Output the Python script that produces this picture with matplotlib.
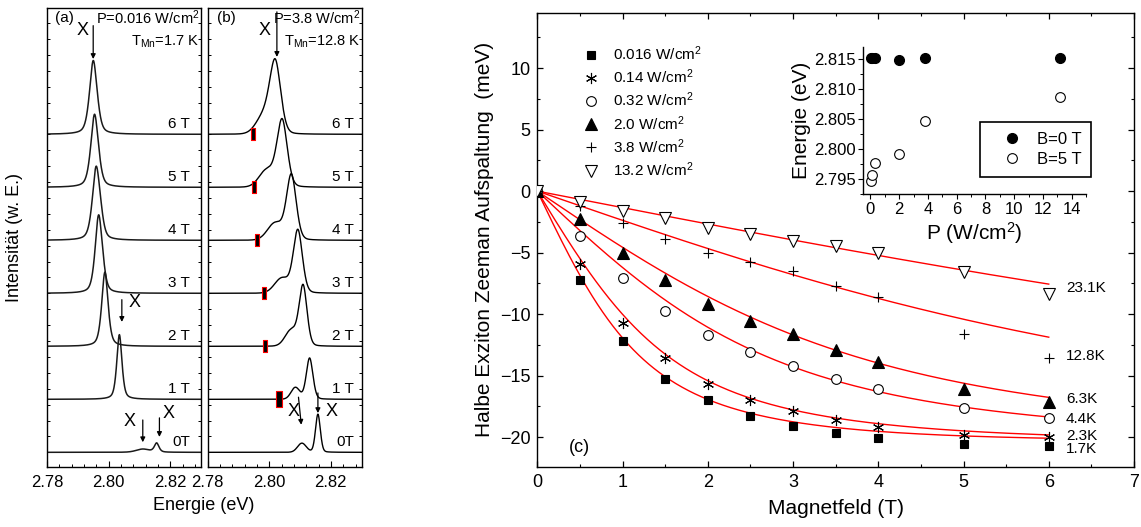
import numpy as np
import matplotlib
matplotlib.use("Agg")
import matplotlib.pyplot as plt
from matplotlib.ticker import MultipleLocator, FormatStrFormatter, NullFormatter

plt.rcParams['font.family'] = ['Liberation Sans', 'DejaVu Sans']
plt.rcParams['mathtext.fontset'] = 'custom'
plt.rcParams['mathtext.rm'] = 'Liberation Sans'
plt.rcParams['mathtext.it'] = 'Liberation Sans:italic'
plt.rcParams['mathtext.bf'] = 'Liberation Sans:bold'
plt.rcParams['axes.linewidth'] = 1.0

# ---------------- spectra (a) and (b) ----------------
field_offsets = [0, 1, 2, 3, 4, 5, 6]
field_labels = ['0T', '1 T', '2 T', '3 T', '4 T', '5 T', '6 T']

# (a) P = 0.016 W/cm^2 : main exciton line and a weak side line per field
a_main_E = [2.8156, 2.8035, 2.7988, 2.7967, 2.7959, 2.7954, 2.7950]
a_main_h = [0.17, 1.22, 1.40, 1.35, 1.29, 1.32, 1.35]
a_main_w = [0.0008, 0.0009, 0.0011, 0.0012, 0.0013, 0.0013, 0.0013]
a_side_E = [2.8111, 2.8040, 2.7995, 2.7978, 2.7972, 2.7965, 2.7962]
a_side_h = [0.06, 0.0, 0.0, 0.22, 0.22, 0.10, 0.08]
a_side_w = [0.0022, 0.0010, 0.0010, 0.0011, 0.0011, 0.0011, 0.0011]

# (b) P = 3.8 W/cm^2 : main line plus low-energy shoulder
b_main_E = [2.8158, 2.8131, 2.8110, 2.8093, 2.8072, 2.8042, 2.8020]
b_main_h = [0.72, 0.78, 1.12, 1.18, 1.22, 1.25, 1.28]
b_main_w = [0.0008, 0.0011, 0.0013, 0.0015, 0.0016, 0.0017, 0.0018]
b_side_E = [2.8106, 2.8085, 2.8072, 2.8042, 2.8020, 2.7993, 2.7985]
b_side_h = [0.17, 0.22, 0.30, 0.28, 0.32, 0.32, 0.35]
b_side_w = [0.0014, 0.0014, 0.0020, 0.0024, 0.0025, 0.0025, 0.0026]
# low-power line positions marked in (b)
b_mark_E = [np.nan, 2.8031, 2.7987, 2.7982, 2.7962, 2.7952, 2.7949]

# ---------------- (c) half exciton Zeeman splitting ----------------
B_field = [0, 0.5, 1, 1.5, 2, 2.5, 3, 3.5, 4, 5, 6]
split_p0016 = [0, -7.19, -12.2, -15.3, -17.0, -18.3, -19.1, -19.7, -20.03, -20.58, -20.74]
split_p014 = [0, -5.89, -10.71, -13.6, -15.7, -17.0, -17.87, -18.6, -19.17, -19.85, -19.98]
split_p032 = [0, -3.64, -7.03, -9.74, -11.7, -13.1, -14.2, -15.3, -16.05, -17.65, -18.44]
split_p20 = [0, -2.23, -5.02, -7.19, -9.14, -10.58, -11.58, -12.93, -13.9, -16.05, -17.14]
split_p38 = [0, -1.25, -2.59, -3.86, -5.02, -5.8, -6.5, -7.73, -8.6, -11.63, -13.6]
split_p132 = [0, -0.88, -1.61, -2.18, -2.96, -3.45, -4.02, -4.48, -5.07, -6.57, -8.38]
power_labels = ['0.016 W/cm$^2$', '0.14 W/cm$^2$', '0.32 W/cm$^2$',
                '2.0 W/cm$^2$', '3.8 W/cm$^2$', '13.2 W/cm$^2$']

# Mn spin temperatures of the Brillouin fits
T_Mn = [1.7, 2.3, 4.4, 6.3, 12.8, 23.1]
T_labels = ['1.7K', '2.3K', '4.4K', '6.3K', '12.8K', '23.1K']
T_label_y = [-21.0, -19.9, -18.5, -16.9, -13.4, -7.9]
E_sat = -20.3      # meV, saturation value
T_0 = 0.5          # K

# ---------------- inset: exciton energy vs power ----------------
P_power = [0.016, 0.14, 0.32, 2.0, 3.8, 13.2]
E_B0 = [2.8152, 2.8152, 2.8152, 2.8149, 2.8152, 2.8152]
E_B5 = [2.7947, 2.7956, 2.7977, 2.7991, 2.8047, 2.8087]


def pvoigt(E, E0, h, w, eta):
    lor = w**2 / ((E - E0)**2 + w**2)
    gau = np.exp(-0.5 * ((E - E0) / w)**2)
    return h * (eta * lor + (1 - eta) * gau)


def brillouin(S, x):
    x = np.asarray(x, dtype=float)
    a = (2 * S + 1) / (2 * S)
    b = 1 / (2 * S)
    with np.errstate(divide='ignore', invalid='ignore'):
        val = a / np.tanh(a * x) - b / np.tanh(b * x)
    return np.where(np.abs(x) < 1e-9, 0.0, val)


W, H = 1141, 527
fig = plt.figure(figsize=(W / 100, H / 100), dpi=100)


def px_axes(left, top, right, bottom):
    return fig.add_axes([left / W, 1 - bottom / H, (right - left) / W, (bottom - top) / H])


E = np.linspace(2.78, 2.83, 1500)


def style_spectrum_axes(ax):
    ax.set_xlim(2.78, 2.83)
    ax.set_ylim(-0.277, 8.383)
    ax.xaxis.set_major_locator(MultipleLocator(0.02))
    ax.xaxis.set_minor_locator(MultipleLocator(0.004))
    ax.xaxis.set_major_formatter(FormatStrFormatter('%.2f'))
    ax.yaxis.set_major_locator(MultipleLocator(0.3))
    ax.yaxis.set_major_formatter(NullFormatter())
    ax.tick_params(axis='x', which='major', direction='in', length=4, width=0.8,
                   labelsize=12, pad=6)
    ax.tick_params(axis='x', which='minor', direction='in', length=2.5, width=0.7)
    ax.tick_params(axis='y', which='major', direction='in', length=2.5, width=0.7,
                   left=True, right=True)


arrow_kw = dict(arrowstyle='-|>', color='k', lw=0.9, mutation_scale=7, shrinkA=0, shrinkB=0)

# ---- panel (a)
ax_a = px_axes(47, 8, 201, 467)
style_spectrum_axes(ax_a)
for i, off in enumerate(field_offsets):
    y = off + pvoigt(E, a_main_E[i], a_main_h[i], a_main_w[i], 0.55) \
        + pvoigt(E, a_side_E[i], a_side_h[i], a_side_w[i], 0.3)
    ax_a.plot(E, y, color='#1a1a1a', lw=1.1)
    ax_a.text(2.8265, off + 0.06, field_labels[i], ha='right', va='bottom', fontsize=11)
ax_a.text(0.05, 0.978, '(a)', transform=ax_a.transAxes, fontsize=11, va='center')
ax_a.text(0.99, 0.978, 'P=0.016 W/cm$^2$', transform=ax_a.transAxes, fontsize=10.5,
          ha='right', va='center')
ax_a.text(0.99, 0.926, 'T$_{\\mathregular{Mn}}$=1.7 K', transform=ax_a.transAxes, fontsize=10.5,
          ha='right', va='center')
ax_a.annotate('', xy=(a_main_E[6], 7.42), xytext=(a_main_E[6], 8.05), arrowprops=arrow_kw)
ax_a.text(2.7915, 7.95, 'X', fontsize=13, ha='center', va='center')
ax_a.annotate('', xy=(2.8043, 2.46), xytext=(2.8043, 2.88), arrowprops=arrow_kw)
ax_a.text(2.8086, 2.82, 'X', fontsize=13, ha='center', va='center')
ax_a.annotate('', xy=(a_side_E[0], 0.19), xytext=(a_side_E[0], 0.61), arrowprops=arrow_kw)
ax_a.text(2.8069, 0.58, 'X', fontsize=13, ha='center', va='center')
ax_a.annotate('', xy=(2.8165, 0.29), xytext=(2.8165, 0.65), arrowprops=arrow_kw)
ax_a.text(2.8196, 0.74, 'X', fontsize=13, ha='center', va='center')

# ---- panel (b)
ax_b = px_axes(207.5, 8, 361.7, 467)
style_spectrum_axes(ax_b)
bar_path = [(-0.32, -1), (0.32, -1), (0.32, 1), (-0.32, 1), (-0.32, -1)]
for i, off in enumerate(field_offsets):
    y = off + pvoigt(E, b_main_E[i], b_main_h[i], b_main_w[i], 0.2) \
        + pvoigt(E, b_side_E[i], b_side_h[i], b_side_w[i], 0.0)
    ax_b.plot(E, y, color='black', lw=1.0)
    ax_b.text(2.8275, off + 0.06, field_labels[i], ha='right', va='bottom', fontsize=11)
    if not np.isnan(b_mark_E[i]):
        ms = 12 if i == 1 else 8
        ax_b.plot([b_mark_E[i]], [off], linestyle='none', marker=bar_path, ms=ms,
                  mfc='black', mec='red', mew=0.8, zorder=5)
ax_b.text(0.06, 0.978, '(b)', transform=ax_b.transAxes, fontsize=11, va='center')
ax_b.text(0.99, 0.978, 'P=3.8 W/cm$^2$', transform=ax_b.transAxes, fontsize=10.5,
          ha='right', va='center')
ax_b.text(0.99, 0.926, 'T$_{\\mathregular{Mn}}$=12.8 K', transform=ax_b.transAxes, fontsize=10.5,
          ha='right', va='center')
ax_b.annotate('', xy=(2.8025, 7.46), xytext=(2.8025, 8.31), arrowprops=arrow_kw)
ax_b.text(2.7985, 7.95, 'X', fontsize=13, ha='center', va='center')
ax_b.annotate('', xy=(2.8104, 0.52), xytext=(2.8095, 1.04), arrowprops=arrow_kw)
ax_b.text(2.8079, 0.77, 'X', fontsize=13, ha='center', va='center')
ax_b.annotate('', xy=(2.8158, 0.74), xytext=(2.8158, 1.12), arrowprops=arrow_kw)
ax_b.text(2.8204, 0.77, 'X', fontsize=13, ha='center', va='center')

fig.text(204 / W, 1 - 505 / H, 'Energie (eV)', ha='center', va='center', fontsize=13)
fig.text(15 / W, 1 - 237 / H, 'Intensität (w. E.)', ha='center', va='center',
         rotation=90, fontsize=13)

# ---- panel (c)
ax_c = px_axes(537.3, 12.7, 1134, 466.7)
ax_c.set_xlim(0, 7)
ax_c.set_ylim(-22.4, 14.5)
ax_c.xaxis.set_major_locator(MultipleLocator(1))
ax_c.xaxis.set_minor_locator(MultipleLocator(0.5))
ax_c.yaxis.set_major_locator(MultipleLocator(5))
ax_c.yaxis.set_minor_locator(MultipleLocator(2.5))
ax_c.tick_params(which='both', direction='in', top=True, right=True)
ax_c.tick_params(which='major', length=4, width=0.9, labelsize=13, pad=5)
ax_c.tick_params(which='minor', length=2.5, width=0.8)
ax_c.set_xlabel('Magnetfeld (T)', fontsize=15, labelpad=6)
ax_c.set_ylabel('Halbe Exziton Zeeman Aufspaltung  (meV)', fontsize=15, labelpad=4)

B_fit = np.linspace(0, 6, 400)
kB = 0.08617      # meV/K
muB = 0.05788     # meV/T
for T in T_Mn:
    x = 2 * muB * 2.5 * B_fit / (kB * (T + T_0))
    ax_c.plot(B_fit, E_sat * brillouin(2.5, x), color='red', lw=1.0, zorder=2)
for lab, ly in zip(T_labels, T_label_y):
    ax_c.text(6.2, ly, lab, fontsize=11, ha='left', va='center')

series = [split_p0016, split_p014, split_p032, split_p20, split_p38, split_p132]
mstyles = [
    dict(marker='s', ms=6, mfc='black', mec='black', mew=0.8),
    dict(marker=(6, 2, 0), ms=8, mfc='black', mec='black', mew=0.8),
    dict(marker='o', ms=7, mfc='white', mec='black', mew=0.8),
    dict(marker='^', ms=8, mfc='black', mec='black', mew=0.8),
    dict(marker='+', ms=7, mfc='black', mec='black', mew=0.8),
    dict(marker='v', ms=8, mfc='white', mec='black', mew=0.8),
]
handles = []
for vals, st, lab in zip(series, mstyles, power_labels):
    h, = ax_c.plot(B_field, vals, linestyle='none', zorder=4, label=lab, **st)
    handles.append(h)
ax_c.legend(handles=handles, loc='upper left', bbox_to_anchor=(0.078, 0.93),
            frameon=False, fontsize=11, handlelength=1.0, handletextpad=0.9,
            labelspacing=0.3, borderpad=0, borderaxespad=0)
ax_c.text(0.5, -20.8, '(c)', fontsize=13, ha='center', va='center')

# ---- inset
ax_i = px_axes(863.3, 46.7, 1086, 194.3)
ax_i.set_xlim(-0.5, 15)
ax_i.set_ylim(2.7924, 2.8171)
ax_i.spines['top'].set_visible(False)
ax_i.spines['right'].set_visible(False)
ax_i.xaxis.set_major_locator(MultipleLocator(2))
ax_i.xaxis.set_minor_locator(MultipleLocator(1))
ax_i.yaxis.set_major_locator(MultipleLocator(0.005))
ax_i.yaxis.set_minor_locator(MultipleLocator(0.0025))
ax_i.yaxis.set_major_formatter(FormatStrFormatter('%.3f'))
ax_i.tick_params(which='both', direction='out')
ax_i.tick_params(which='major', length=3.5, width=0.8, labelsize=12, pad=2)
ax_i.tick_params(which='minor', length=2, width=0.7)
ax_i.set_xlabel('P (W/cm$^2$)', fontsize=15, labelpad=2)
ax_i.set_ylabel('Energie (eV)', fontsize=15, labelpad=2)
ax_i.plot(P_power, E_B0, linestyle='none', marker='o', ms=7, mfc='black', mec='black',
          label='B=0 T')
ax_i.plot(P_power, E_B5, linestyle='none', marker='o', ms=7, mfc='white', mec='black',
          mew=0.8, label='B=5 T')
leg = ax_i.legend(loc='upper left', bbox_to_anchor=(0.524, 0.492), fontsize=12,
                  frameon=True, fancybox=False, edgecolor='black', framealpha=1,
                  borderpad=0.6, handlelength=2.7, handletextpad=0.1,
                  labelspacing=0.3, borderaxespad=0)
leg.get_frame().set_linewidth(1.2)

fig.savefig('out.png', dpi=100)
